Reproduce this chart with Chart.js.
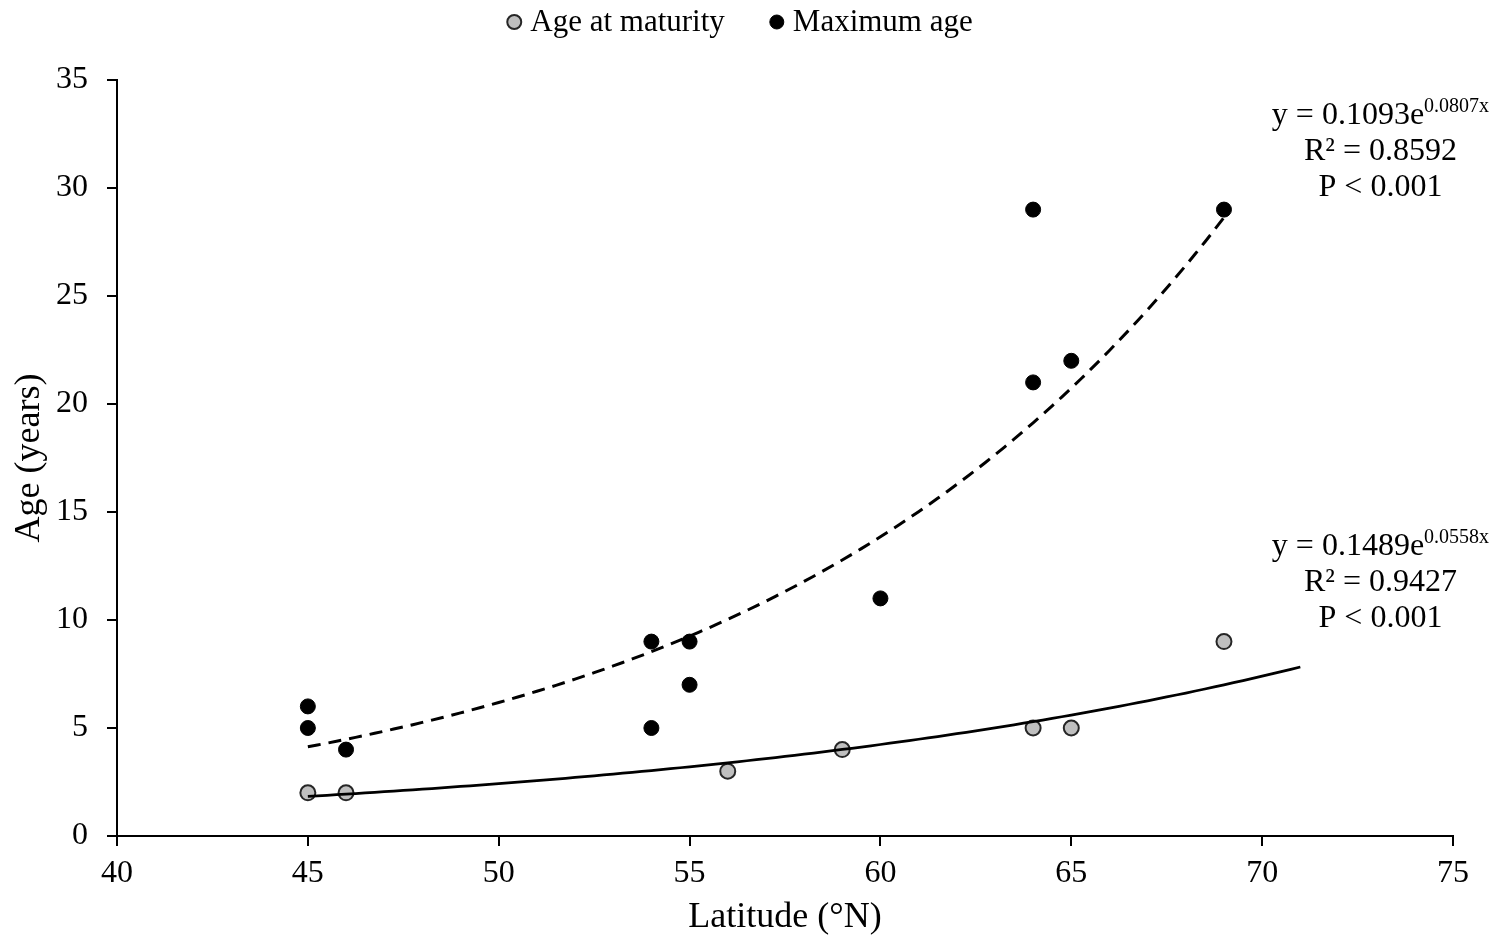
<!DOCTYPE html>
<html>
<head>
<meta charset="utf-8">
<title>Age vs latitude</title>
<script src="https://cdn.jsdelivr.net/npm/chart.js@4.4.1/dist/chart.umd.min.js"></script>
<style>
  html, body { margin: 0; padding: 0; background: #ffffff; }
  #wrap { width: 1501px; height: 945px; }
</style>
</head>
<body>
<div id="wrap"><canvas id="chart" width="1501" height="945"></canvas></div>
<script>
// Observations: latitude (°N) and age (years)
const maturityLatitude = [45, 46, 56, 59, 64, 65, 69];
const maturityAge      = [2, 2, 3, 4, 5, 5, 9];
const maximumLatitude  = [45, 45, 46, 54, 54, 55, 55, 60, 64, 64, 65, 69];
const maximumAge       = [6, 5, 4, 9, 5, 9, 7, 11, 29, 21, 22, 29];

// Exponential fits y = a·e^(b·x), with fitted range and statistics
const maximumFit   = [0.1093, 0.0807];
const maximumRange = [45, 69];
const maximumStats = ['0.8592', '< 0.001'];
const maturityFit   = [0.1489, 0.0558];
const maturityRange = [45, 71];
const maturityStats = ['0.9427', '< 0.001'];

// Axis ticks
const latitudeTicks = [40, 45, 50, 55, 60, 65, 70, 75];
const ageTicks      = [0, 5, 10, 15, 20, 25, 30, 35];

const SERIF = '"Liberation Serif", "Times New Roman", Times, serif';

function toPoints(xs, ys) { return xs.map((x, i) => ({ x: x, y: ys[i] })); }
function fitCurve(coef, range) {
  const pts = [];
  for (let x = range[0]; x <= range[1] + 1e-9; x += 0.25) {
    pts.push({ x: x, y: coef[0] * Math.exp(coef[1] * x) });
  }
  return pts;
}
function equationLines(coef, stats) {
  return [
    { main: 'y = ' + coef[0].toFixed(4) + 'e', sup: coef[1].toFixed(4) + 'x' },
    { main: 'R² = ' + stats[0] },
    { main: 'P ' + stats[1] }
  ];
}

// Legend drawn at the top of the canvas
const topLegend = {
  id: 'topLegend',
  afterDraw(chart, args, opts) {
    const ctx = chart.ctx;
    ctx.save();
    ctx.font = opts.fontSize + 'px ' + SERIF;
    ctx.textBaseline = 'middle';
    const items = opts.datasets.map(i => chart.data.datasets[i]);
    const widths = items.map(d => 2 * opts.radius + opts.gap + ctx.measureText(d.label).width);
    const total = widths.reduce((s, w) => s + w, 0) + opts.spacing * (items.length - 1);
    let x = opts.centerX - total / 2;
    items.forEach((d, i) => {
      ctx.beginPath();
      ctx.arc(x + opts.radius, opts.y, opts.radius, 0, Math.PI * 2);
      ctx.fillStyle = d.backgroundColor;
      ctx.fill();
      ctx.lineWidth = d.borderWidth;
      ctx.strokeStyle = d.borderColor;
      ctx.stroke();
      ctx.fillStyle = '#000';
      ctx.textAlign = 'left';
      ctx.fillText(d.label, x + 2 * opts.radius + opts.gap, opts.y + 1);
      x += widths[i] + opts.spacing;
    });
    ctx.restore();
  }
};

// Fit equations written beside the curves
const fitLabels = {
  id: 'fitLabels',
  afterDraw(chart, args, opts) {
    const ctx = chart.ctx;
    const xs = chart.scales.x, ys = chart.scales.y;
    ctx.save();
    ctx.fillStyle = '#000';
    ctx.textBaseline = 'alphabetic';
    ctx.textAlign = 'left';
    opts.blocks.forEach(b => {
      const cx = xs.getPixelForValue(b.x);
      const cy = ys.getPixelForValue(b.y);
      b.lines.forEach((ln, i) => {
        ctx.font = opts.fontSize + 'px ' + SERIF;
        const mw = ctx.measureText(ln.main).width;
        let sw = 0;
        if (ln.sup) {
          ctx.font = opts.supSize + 'px ' + SERIF;
          sw = ctx.measureText(ln.sup).width;
        }
        const x0 = cx - (mw + sw) / 2;
        const base = cy + i * opts.lineGap + opts.baselineShift;
        ctx.font = opts.fontSize + 'px ' + SERIF;
        ctx.fillText(ln.main, x0, base);
        if (ln.sup) {
          ctx.font = opts.supSize + 'px ' + SERIF;
          ctx.fillText(ln.sup, x0 + mw, base - opts.supRaise);
        }
      });
    });
    ctx.restore();
  }
};

const tickFont = { family: SERIF, size: 32 };

new Chart(document.getElementById('chart'), {
  type: 'scatter',
  data: {
    datasets: [
      {
        label: 'Age at maturity',
        data: toPoints(maturityLatitude, maturityAge),
        backgroundColor: '#bfbfbf',
        borderColor: '#262626',
        borderWidth: 2,
        pointRadius: 7.5,
        pointHoverRadius: 7.5,
        order: 2
      },
      {
        label: 'Maximum age',
        data: toPoints(maximumLatitude, maximumAge),
        backgroundColor: '#000000',
        borderColor: '#000000',
        borderWidth: 1,
        pointRadius: 7.5,
        pointHoverRadius: 7.5,
        order: 2
      },
      {
        label: 'Maximum age fit',
        data: fitCurve(maximumFit, maximumRange),
        showLine: true,
        borderColor: '#000000',
        borderWidth: 3,
        borderDash: [13, 8],
        pointRadius: 0,
        fill: false,
        order: 1
      },
      {
        label: 'Age at maturity fit',
        data: fitCurve(maturityFit, maturityRange),
        showLine: true,
        borderColor: '#000000',
        borderWidth: 2.75,
        pointRadius: 0,
        fill: false,
        order: 1
      }
    ]
  },
  options: {
    responsive: false,
    animation: false,
    devicePixelRatio: 1,
    layout: { padding: { top: 80, right: 48, bottom: 0, left: 0 } },
    plugins: {
      legend: { display: false },
      tooltip: { enabled: false },
      topLegend: { datasets: [0, 1], centerX: 740, y: 22, radius: 7, gap: 9, spacing: 45, fontSize: 31 },
      fitLabels: {
        fontSize: 32, supSize: 20, lineGap: 36, baselineShift: 10, supRaise: 12,
        blocks: [
          { x: 73.1, y: 33.43, lines: equationLines(maximumFit, maximumStats) },
          { x: 73.1, y: 13.45, lines: equationLines(maturityFit, maturityStats) }
        ]
      }
    },
    scales: {
      x: {
        type: 'linear',
        min: latitudeTicks[0],
        max: latitudeTicks[latitudeTicks.length - 1],
        afterBuildTicks: s => { s.ticks = latitudeTicks.map(v => ({ value: v })); },
        afterFit: s => { s.height = 109; },
        grid: { drawOnChartArea: false, drawTicks: true, tickLength: 10, color: '#000', lineWidth: 2 },
        border: { color: '#000', width: 2 },
        ticks: { font: tickFont, color: '#000', padding: 8, maxRotation: 0 },
        title: { display: true, text: 'Latitude (°N)', font: { family: SERIF, size: 36 }, color: '#000', padding: { top: 0, bottom: 6 } }
      },
      y: {
        type: 'linear',
        min: ageTicks[0],
        max: ageTicks[ageTicks.length - 1],
        afterBuildTicks: s => { s.ticks = ageTicks.map(v => ({ value: v })); },
        afterFit: s => { s.width = 117; },
        grid: { drawOnChartArea: false, drawTicks: true, tickLength: 10, color: '#000', lineWidth: 2 },
        border: { color: '#000', width: 2 },
        ticks: { font: tickFont, color: '#000', padding: 19 },
        title: { display: true, text: 'Age (years)', font: { family: SERIF, size: 36 }, color: '#000', padding: { top: 8, bottom: 0 } }
      }
    }
  },
  plugins: [topLegend, fitLabels]
});
</script>
</body>
</html>
